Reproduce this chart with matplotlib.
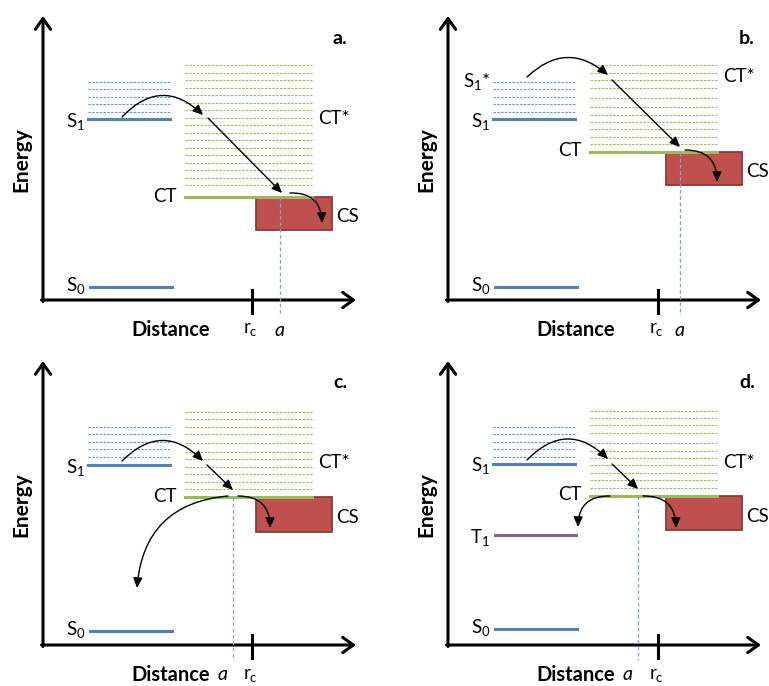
import matplotlib
matplotlib.use('Agg')
import matplotlib.pyplot as plt
from matplotlib.patches import Rectangle

plt.rcParams['font.family'] = ['Lato', 'DejaVu Sans']
plt.rcParams['mathtext.default'] = 'regular'

# ---- schematic data (energy in arbitrary units, distance in arbitrary units) ----
PANEL_TAGS = ['a.', 'b.', 'c.', 'd.']
S0_E = [13, 13, 14, 16]
S1_E = [181, 181, 180, 181]
S1_VIB = [218, 211, 203, 196, 188]
CT_E = [103, 148, 148, 149]
CT_VIB = [
    [235, 227, 220, 212, 205, 197, 190, 182, 175, 167, 160, 152, 145, 137, 130, 122, 115],
    [235, 227, 220, 212, 202, 193, 185, 178, 171, 163, 156],
    [233, 226, 218, 211, 202, 193, 186, 178, 171, 163, 156],
    [234, 227, 220, 212, 202, 194, 187, 180, 172, 165, 157],
]
CS_LEFT = [213, 218, 213, 218]
CS_RIGHT = [289, 294, 289, 294]
CS_BOTTOM = [70, 115, 113, 115]
T1_E = [None, None, None, 110]
RC_X = [209, 210, 209, 210]
A_X = [237, 232, 190, 190]
S1_STAR = [False, True, False, False]

DONOR_X = (45, 127)
ACCEPTOR_X = (142, 269)

# arrows per panel: (x0, y0, x1, y1, rad)
ARROWS = [
    [(79, 183, 160, 185, -0.5), (165, 182, 239, 107, 0.0), (247, 107, 279, 77, -0.5)],
    [(79, 223, 160, 225, -0.45), (164, 220, 232, 153, 0.0), (237, 150, 269, 118, -0.5)],
    [(79, 184, 160, 184, -0.5), (164, 180, 190, 155, 0.0), (195, 149, 227, 117, -0.5),
     (185, 149, 94, 57, 0.42)],
    [(79, 185, 160, 186, -0.5), (164, 181, 190, 156, 0.0), (195, 149, 228, 117, -0.5),
     (162, 149, 130, 118, 0.5)],
]

BLUE = '#4F81BD'
GREEN = '#9BBB59'
RED = '#C0504D'
RED_EDGE = '#8E3A38'
PURPLE = '#8064A2'

fig = plt.figure(figsize=(7.69, 6.86), dpi=100)
W, H = 769, 686
quads = [(0, 0, 385, 343), (385, 0, 384, 343), (0, 343, 385, 343), (385, 343, 384, 343)]
origins = [(43, 300), (63, 300), (43, 302), (63, 302)]

for i, ((qx, qy, qw, qh), (ox, oy)) in enumerate(zip(quads, origins)):
    ax = fig.add_axes([qx / W, 1 - (qy + qh) / H, qw / W, qh / H])
    ax.set_xlim(-ox, qw - ox)
    ax.set_ylim(oy - qh, oy)
    ax.axis('off')

    # axes with open arrow heads
    head = dict(arrowstyle='->,head_length=0.35,head_width=0.25', color='black',
                lw=2.2, mutation_scale=22, shrinkA=0, shrinkB=0)
    ax.annotate('', xy=(0, 284), xytext=(0, -1.5), arrowprops=head)
    ax.annotate('', xy=(313, 0), xytext=(-1.5, 0), arrowprops=head)

    # vibrational manifolds
    for e in S1_VIB:
        ax.plot(DONOR_X, [e, e], color=BLUE, lw=0.8, ls=(0, (2.2, 1.2)), alpha=0.85)
    for e in CT_VIB[i]:
        ax.plot(ACCEPTOR_X, [e, e], color=GREEN, lw=0.8, ls=(0, (2.2, 1.2)))

    # CS box
    ax.add_patch(Rectangle((CS_LEFT[i], CS_BOTTOM[i]), CS_RIGHT[i] - CS_LEFT[i],
                           CT_E[i] - CS_BOTTOM[i], facecolor=RED, edgecolor=RED_EDGE,
                           lw=1.3, zorder=2))

    # electronic levels
    ax.plot(DONOR_X, [S1_E[i]] * 2, color=BLUE, lw=2.2, zorder=3)
    ax.plot((DONOR_X[0] + 2, DONOR_X[1] + 2), [S0_E[i]] * 2, color=BLUE, lw=2.2, zorder=3)
    ax.plot(ACCEPTOR_X, [CT_E[i]] * 2, color=GREEN, lw=2.2, zorder=3)
    if T1_E[i] is not None:
        ax.plot((DONOR_X[0] + 2, DONOR_X[1] + 1), [T1_E[i]] * 2, color=PURPLE, lw=2.2, zorder=3)
        ax.text(42, T1_E[i] - 2, 'T$_1$', fontsize=13.5, ha='right', va='center')

    # r_c tick and a marker
    ax.plot([RC_X[i]] * 2, [-13, 10], color='black', lw=2.2, zorder=4)
    ax.plot([A_X[i]] * 2, [CT_E[i], -15], color='#7FA3D3', lw=0.9, ls=(0, (3, 2)), zorder=4)

    # transfer arrows
    for (x0, y0, x1, y1, rad) in ARROWS[i]:
        ax.annotate('', xy=(x1, y1), xytext=(x0, y0),
                    arrowprops=dict(arrowstyle='-|>,head_length=0.55,head_width=0.25',
                                    color='black', lw=1.0, mutation_scale=11,
                                    shrinkA=0, shrinkB=0,
                                    connectionstyle=f'arc3,rad={rad}'), zorder=6)

    # labels
    ax.text(299 if i % 2 else 297, 262, PANEL_TAGS[i], fontsize=14, fontweight='bold',
            ha='center', va='center')
    ax.text(-22, 140, 'Energy', fontsize=15, fontweight='bold', rotation=90,
            ha='center', va='center')
    ax.text(128, -30, 'Distance', fontsize=14.5, fontweight='bold', ha='center', va='center')
    ax.text(42, S1_E[i] - 2, 'S$_1$', fontsize=13.5, ha='right', va='center')
    ax.text(43, S0_E[i] + 1, 'S$_0$', fontsize=13.5, ha='right', va='center')
    if S1_STAR[i]:
        ax.text(42, 218, 'S$_1$*', fontsize=13.5, ha='right', va='center')
    ct_star_e = [181, 223, 183, 183][i]
    ax.text(275, ct_star_e, 'CT*', fontsize=13.5, ha='left', va='center')
    ax.text(134, CT_E[i] + 1, 'CT', fontsize=13.5, ha='right', va='center')
    ax.text(CS_RIGHT[i] + 4, (CT_E[i] + CS_BOTTOM[i]) / 2 - 3, 'CS', fontsize=13.5,
            ha='left', va='center')
    ax.text(RC_X[i] - 2, -30, 'r$_c$', fontsize=13.5, ha='center', va='center')
    ax.text(A_X[i] + (0 if i < 2 else -10), -30, 'a', fontsize=14, style='italic',
            ha='center', va='center')

fig.savefig('out.png', dpi=100, facecolor='white')
